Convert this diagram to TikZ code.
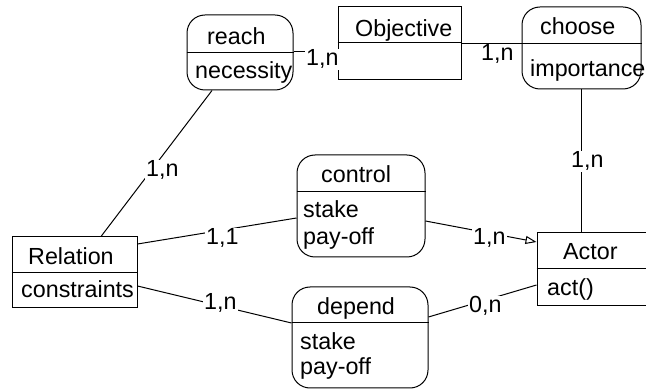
\documentclass[tikz,border=0pt]{standalone}
\usepackage{fontspec}
\setmainfont{Liberation Sans}
\usetikzlibrary{arrows.meta}

\tikzset{
  every node/.style={font=\fontsize{23.3}{28}\selectfont},
  entity/.style={draw, line width=1pt, rectangle, inner sep=0pt},
  relship/.style={draw, line width=1pt, rectangle, rounded corners=18pt, inner sep=0pt},
  txt/.style={anchor=base west, inner sep=0pt},
  card/.style={anchor=base west, fill=white, inner sep=1pt},
  link/.style={line width=1pt},
  isa/.style={line width=1pt, -{Triangle[open,length=11pt,width=8pt]}},
}

\begin{document}
\begin{tikzpicture}[x=1pt,y=-1pt]
\clip (0,0) rectangle (646,390);
\useasboundingbox (0,0) rectangle (646,390);

% entity boxes
\node[entity, minimum width=123pt, minimum height=73pt] (objective) at (399.5,43.5) {};
\node[entity, minimum width=125pt, minimum height=71pt] (relation) at (74.5,272.5) {};
\node[entity, minimum width=123pt, minimum height=73pt] (actor) at (598.5,269.5) {};

% relationship boxes
\node[relship, minimum width=106pt, minimum height=75pt] (reach) at (240,52.5) {};
\node[relship, minimum width=119pt, minimum height=82pt] (choose) at (581.5,48) {};
\node[relship, minimum width=128pt, minimum height=102pt] (control) at (361,206) {};
\node[relship, minimum width=136pt, minimum height=101pt] (depend) at (360,337.5) {};

% compartment dividers
\draw[link] (objective.west |- 0,43) -- (objective.east |- 0,43);
\draw[link] (relation.west |- 0,273) -- (relation.east |- 0,273);
\draw[link] (actor.west |- 0,269) -- (actor.east |- 0,269);
\draw[link] (reach.west |- 0,53) -- (reach.east |- 0,53);
\draw[link] (choose.west |- 0,44) -- (choose.east |- 0,44);
\draw[link] (control.west |- 0,192) -- (control.east |- 0,192);
\draw[link] (depend.west |- 0,323) -- (depend.east |- 0,323);

% compartment texts
\node[txt] (tObjective) at (355,37) {Objective};
\node[txt] (tRelation) at (28,265) {Relation};
\node[txt] (tConstraints) at (21,298) {constraints};
\node[txt] (tActor) at (563,260) {Actor};
\node[txt] (tAct) at (547,296) {act()};
\node[txt] (tReach) at (207,45) {reach};
\node[txt] (tNecessity) at (195,79) {necessity};
\node[txt] (tChoose) at (540,35) {choose};
\node[txt] (tImportance) at (530,77) {importance};
\node[txt] (tControl) at (321,183) {control};
\node[txt] (tStakeA) at (303,218) {stake};
\node[txt] (tPayA) at (303,245) {pay-off};
\node[txt] (tDepend) at (317,315) {depend};
\node[txt] (tStakeB) at (300,350) {stake};
\node[txt] (tPayB) at (300,375) {pay-off};

% connectors
\draw[link] (reach.east |- 0,52) -- (objective.west |- 0,52);
\draw[link] (objective.east |- 0,43.5) -- (choose.west |- 0,43.5);
\draw[link] (reach.south -| 212,0) -- (relation.north -| 101,0);
\draw[link] (choose.south) -- (actor.north -| choose.south);
\draw[link] (relation.east |- 0,244) -- (control.west |- 0,218);
\draw[isa] (control.east |- 0,221) -- (actor.west |- 0,242);
\draw[link] (relation.east |- 0,286) -- (depend.west |- 0,323);
\draw[link] (depend.east |- 0,317) -- (actor.west |- 0,285);

% cardinalities
\node[card] (cReachObj) at (305,66) {1,n};
\node[card] (cObjChoose) at (480,61) {1,n};
\node[card] (cReachRel) at (145,177) {1,n};
\node[card] (cChooseActor) at (570,168) {1,n};
\node[card] (cRelControl) at (205,245) {1,1};
\node[card] (cControlActor) at (472,245) {1,n};
\node[card] (cDependActor) at (468,313) {0,n};
\node[card] (cRelDepend) at (203,310) {1,n};
\end{tikzpicture}
\end{document}
